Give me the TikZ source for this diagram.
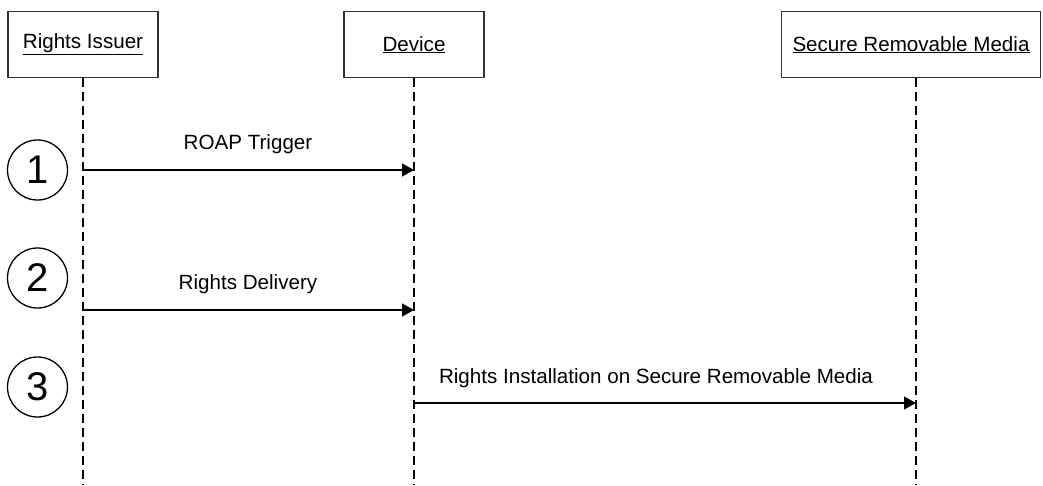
\documentclass[tikz,border=0pt]{standalone}
\usepackage{fontspec}
\setmainfont{Liberation Sans}
\usetikzlibrary{arrows.meta}
\begin{document}
\begin{tikzpicture}[x=1pt,y=-1pt,
  actor/.style={draw=black!80,line width=1.3pt,minimum width=150pt,minimum height=66pt,
    inner sep=0pt,font=\fontsize{20.6}{24}\selectfont,anchor=north},
  lifeline/.style={draw=black,line width=1.1pt,dash pattern=on 9pt off 5pt},
  msg/.style={draw=black,line width=1.3pt,-{Triangle[length=12pt,width=13pt]}},
  msglabel/.style={font=\fontsize{20.6}{24}\selectfont,anchor=base},
  stepnum/.style={circle,draw=black,line width=1.3pt,minimum size=60pt,inner sep=0pt,
    font=\fontsize{40}{44}\selectfont}]
\useasboundingbox (0,0) rectangle (1043,485);

% participants
\node[actor] (ri) at (83,11) {\underline{Rights Issuer}};
\node[actor,minimum width=140pt] (dev) at (414,11) {\underline{Device}};
\node[actor,minimum width=259pt] (srm) at (911,11) {\underline{Secure Removable Media}};

% lifelines
\coordinate (riEnd) at (83,485);
\coordinate (devEnd) at (414,485);
\coordinate (srmEnd) at (916,485);
\draw[lifeline] (ri.south) -- (riEnd);
\draw[lifeline] (dev.south) -- (devEnd);
\draw[lifeline] (ri.south -| srmEnd) -- (srmEnd);

% step markers
\node[stepnum] (s1) at (37.5,170) {1};
\node[stepnum] (s2) at (37.5,278) {2};
\node[stepnum] (s3) at (37.5,387) {3};

% messages
\coordinate (m1a) at (83,170);   \coordinate (m1b) at (414,170);
\coordinate (m2a) at (83,310);   \coordinate (m2b) at (414,310);
\coordinate (m3a) at (414,403);  \coordinate (m3b) at (916,403);
\draw[msg] (m1a) -- (m1b);
\draw[msg] (m2a) -- (m2b);
\draw[msg] (m3a) -- (m3b);
\node[msglabel] (l1) at (248,149) {ROAP Trigger};
\node[msglabel] (l2) at (248,289) {Rights Delivery};
\node[msglabel] (l3) at (656,383) {Rights Installation on Secure Removable Media};
\end{tikzpicture}
\end{document}
